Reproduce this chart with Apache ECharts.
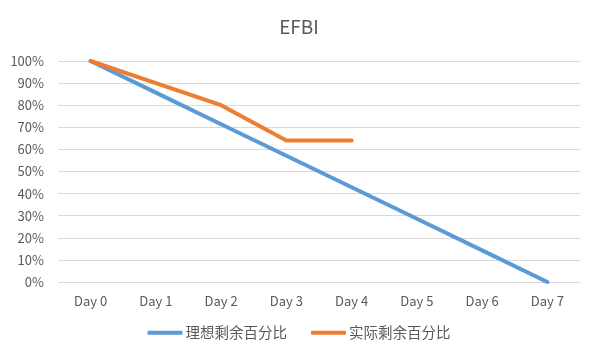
<!DOCTYPE html>
<html><head><meta charset="utf-8">
<script src="https://cdn.jsdelivr.net/npm/echarts@6/dist/echarts.min.js"></script>
<style>html,body{margin:0;padding:0;background:#fff}#c{width:598px;height:357px}</style>
</head><body><div id="c"></div>
<script>
var categories = ['Day 0','Day 1','Day 2','Day 3','Day 4','Day 5','Day 6','Day 7'];
var idealName = '理想剩余百分比';
var actualName = '实际剩余百分比';
var idealValues = [100, 85.7, 71.4, 57.1, 42.9, 28.6, 14.3, 0];
var actualValues = [100, 90, 80, 64, 64];
var chart = echarts.init(document.getElementById('c'));
var txt = '#595959';
var font = '"Microsoft YaHei","Noto Sans CJK SC","Liberation Sans",sans-serif';
chart.setOption({
  animation: false,
  backgroundColor: '#fff',
  title: { text: 'EFBI', left: 'center', top: 12, textStyle: { fontSize: 19, fontWeight: 'normal', color: txt, fontFamily: font } },
  legend: {
    bottom: 12, left: 'center', itemGap: 24, itemWidth: 35, itemHeight: 4, icon: 'roundRect',
    textStyle: { fontSize: 14.5, color: txt, fontFamily: font, padding: [0,0,0,-2] },
    data: [idealName, actualName]
  },
  grid: { left: 58, right: 18, top: 61, bottom: 75 },
  xAxis: {
    type: 'category', data: categories, boundaryGap: true,
    axisLine: { show: false }, axisTick: { show: false },
    axisLabel: { color: txt, fontSize: 13, fontFamily: font, margin: 13 }
  },
  yAxis: {
    type: 'value', min: 0, max: 100, interval: 10,
    axisLabel: { formatter: '{value}%', color: txt, fontSize: 13, fontFamily: font, margin: 14 },
    splitLine: { lineStyle: { color: '#D9D9D9', width: 1 } },
    axisLine: { show: false }, axisTick: { show: false }
  },
  series: [
    { name: idealName, type: 'line', data: idealValues, showSymbol: false, symbol: 'none',
      lineStyle: { color: '#5B9BD5', width: 4, cap: 'round' }, itemStyle: { color: '#5B9BD5' } },
    { name: actualName, type: 'line', data: actualValues, showSymbol: false, symbol: 'none',
      lineStyle: { color: '#ED7D31', width: 4, cap: 'round' }, itemStyle: { color: '#ED7D31' } }
  ]
});
</script></body></html>
